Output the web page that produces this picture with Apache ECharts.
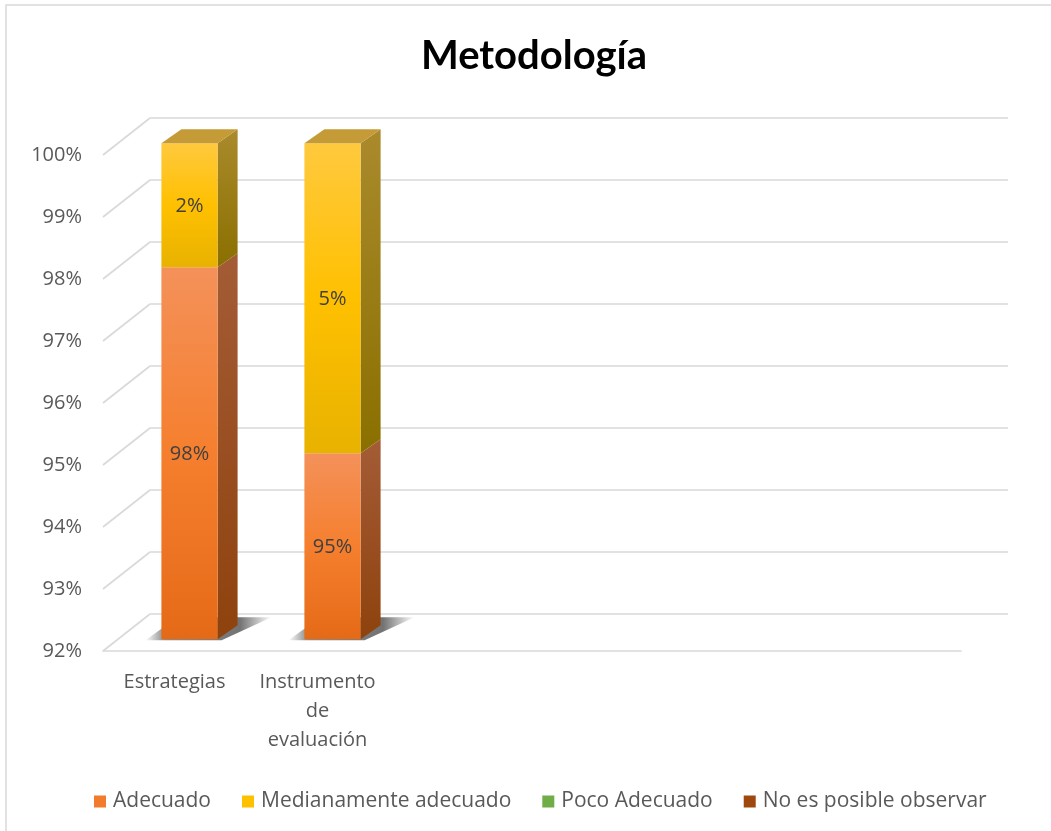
<!DOCTYPE html>
<html>
<head>
<meta charset="utf-8">
<script src="https://cdn.jsdelivr.net/npm/echarts@6/dist/echarts.min.js"></script>
<style>
html,body{margin:0;padding:0;background:#fff;}
#chart{width:1051px;height:831px;}
</style>
</head>
<body>
<div id="chart"></div>
<script>
// ---- data ----
const categories = ['Estrategias', 'Instrumento de evaluación', '', '', '', ''];
const seriesNames = ['Adecuado', 'Medianamente adecuado', 'Poco Adecuado', 'No es posible observar'];
const adecuado = [0.98, 0.95];
const medianamente = [0.02, 0.05];
const pocoAdecuado = [0, 0];
const noPosible = [0, 0];
const yTicks = [0.92, 0.93, 0.94, 0.95, 0.96, 0.97, 0.98, 0.99, 1.00];
const titleText = 'Metodología';

// ---- style ----
const FONT = '"Open Sans"';
const Y_MIN = 0.92, Y_MAX = 1.0;
const WALL_DX = 47, WALL_DY = -37;
const BAR_DX = 15, BAR_DY = -11.7;
const DEPTH_DX = 20, DEPTH_DY = -14;
const G = echarts.graphic;
function lg(stops) { return new G.LinearGradient(0, 0, 0, 1, stops.map((c, i) => ({offset: i / (stops.length - 1), color: c}))); }

const palettes = [
  {front: ['#F4915A', '#F57F2E', '#E56A17'], side: ['#A45C36', '#8E420D'], top: '#B8693A', legend: '#F07C2C'},
  {front: ['#FFC93E', '#FFC000', '#E8B200'], side: ['#AA8A2C', '#8A6F00'], top: '#C49B36', legend: '#FFC000'},
  {front: ['#8BC56A', '#70AD47', '#5E9A38'], side: ['#4E7A32', '#3D6226'], top: '#5E8F3C', legend: '#70AD47'},
  {front: ['#B45A1E', '#9E480E', '#8A3C08'], side: ['#6A300A', '#5A2806'], top: '#7A3A10', legend: '#9E480E'}
];

const valueLists = [adecuado, medianamente, pocoAdecuado, noPosible];
const totals = categories.map((c, i) => valueLists.reduce((s, arr) => s + (arr[i] || 0), 0));

function stackedData(k) {
  const out = [];
  valueLists[k].forEach((v, i) => {
    let base = 0;
    for (let j = 0; j < k; j++) base += valueLists[j][i] || 0;
    out.push([i, base, base + v]);
  });
  return out;
}

function makeBarRender(k) {
  const pal = palettes[k];
  return function (params, api) {
    const cat = api.value(0), start = api.value(1), end = api.value(2);
    if (!(end > start)) return null;
    const lo = Math.max(start, Y_MIN), hi = Math.min(end, Y_MAX);
    if (hi <= lo) return null;
    const pb = api.coord([cat, lo]);
    const pt = api.coord([cat, hi]);
    const bw = api.size([1, 0])[0] * 0.393;
    const x0 = pb[0] - bw / 2 + BAR_DX, x1 = x0 + bw;
    const yb = pb[1] + BAR_DY, yt = pt[1] + BAR_DY;
    const children = [];
    if (start <= Y_MIN + 1e-9) {
      // floor shadow
      children.push({
        type: 'polygon',
        shape: {points: [[x0 - 16, yb + 1], [x1 + 4, yb + 1], [x1 + DEPTH_DX + 34, yb - 22], [x0 + DEPTH_DX - 4, yb - 22]]},
        style: {fill: new G.LinearGradient(0, 0, 1, 0, [{offset: 0, color: 'rgba(0,0,0,0.0)'}, {offset: 0.15, color: 'rgba(0,0,0,0.45)'}, {offset: 0.75, color: 'rgba(0,0,0,0.55)'}, {offset: 1, color: 'rgba(0,0,0,0.0)'}])}
      });
    }
    children.push({
      type: 'polygon',
      shape: {points: [[x1, yt], [x1 + DEPTH_DX, yt + DEPTH_DY], [x1 + DEPTH_DX, yb + DEPTH_DY], [x1, yb]]},
      style: {fill: lg(pal.side)}
    });
    children.push({
      type: 'rect',
      shape: {x: x0, y: yt, width: bw, height: yb - yt},
      style: {fill: lg(pal.front)}
    });
    if (Math.abs(end - totals[cat]) < 1e-9) {
      children.push({
        type: 'polygon',
        shape: {points: [[x0, yt], [x0 + DEPTH_DX, yt + DEPTH_DY], [x1 + DEPTH_DX, yt + DEPTH_DY], [x1, yt]]},
        style: {fill: pal.top}
      });
    }
    children.push({
      type: 'text',
      style: {
        text: Math.round((end - start) * 100) + '%',
        x: (x0 + x1) / 2, y: (yb + yt) / 2 + 1,
        align: 'center', verticalAlign: 'middle',
        fill: '#404040', font: '20px ' + FONT
      }
    });
    return {type: 'group', children: children};
  };
}

function wallRender(params, api) {
  const cs = params.coordSys;
  const v = api.value(1);
  const y = api.coord([0, v])[1];
  const x = cs.x;
  const style = {stroke: '#D9D9D9', lineWidth: 1.6, fill: null};
  return {
    type: 'group',
    children: [
      {type: 'line', shape: {x1: x, y1: y, x2: x + WALL_DX, y2: y + WALL_DY}, style: style},
      {type: 'line', shape: {x1: x + WALL_DX, y1: y + WALL_DY, x2: x + cs.width + WALL_DX, y2: y + WALL_DY}, style: style}
    ]
  };
}

const series = [{
  type: 'custom',
  name: '_walls',
  renderItem: wallRender,
  data: yTicks.map(v => [0, v]),
  encode: {x: 0, y: 1},
  z: 1,
  silent: true
}];
seriesNames.forEach((name, k) => {
  series.push({
    type: 'custom',
    name: name,
    renderItem: makeBarRender(k),
    data: stackedData(k),
    encode: {x: 0, y: [1, 2]},
    itemStyle: {color: palettes[k].legend},
    z: 3 + k
  });
});

const chart = echarts.init(document.getElementById('chart'), null, {renderer: 'canvas'});
chart.setOption({
  backgroundColor: '#fff',
  animation: false,
  title: {
    text: titleText, left: 416, top: 31,
    textStyle: {fontFamily: 'Lato', fontWeight: 'bold', fontSize: 40, color: '#000'}
  },
  graphic: [{
    type: 'rect', shape: {x: 6, y: 5, width: 1100, height: 900},
    style: {fill: null, stroke: '#D9D9D9', lineWidth: 1.5}, silent: true
  }],
  legend: {
    data: seriesNames,
    top: 786, left: 89,
    itemWidth: 12, itemHeight: 12, itemGap: 31, icon: 'rect',
    textStyle: {fontFamily: FONT, fontSize: 21, color: '#595959', padding: [0, 0, 0, 2]}
  },
  grid: {left: 103, right: 90, top: 155, bottom: 180},
  xAxis: {
    type: 'category', data: categories,
    axisTick: {show: false},
    axisLine: {lineStyle: {color: '#D9D9D9', width: 1.6}},
    axisLabel: {
      interval: 0, margin: 17, color: '#595959', fontFamily: FONT, fontSize: 20, lineHeight: 29,
      formatter: v => v.split(' ').join('\n')
    }
  },
  yAxis: {
    type: 'value', min: Y_MIN, max: Y_MAX, interval: 0.01,
    axisLine: {show: false}, axisTick: {show: false}, splitLine: {show: false},
    axisLabel: {margin: 21, color: '#595959', fontFamily: FONT, fontSize: 20, formatter: v => Math.round(v * 100) + '%'}
  },
  series: series
});
</script>
</body>
</html>
